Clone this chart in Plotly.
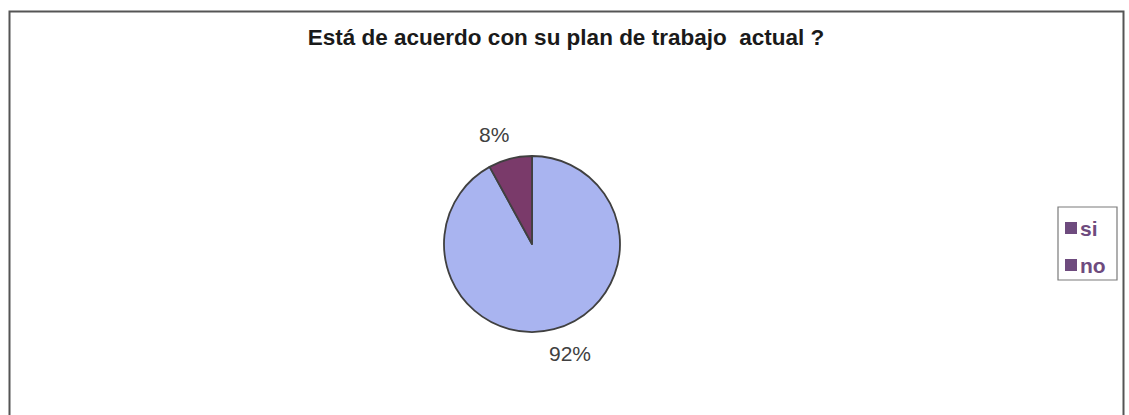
import math
import plotly.graph_objects as go

# Survey answers and their shares (percent)
labels = ["si", "no"]
values = [92, 8]
slice_colors = ["#A9B4F0", "#7A3A6A"]
legend_color = "#6E4B7E"

title_text = "Está de acuerdo con su plan de trabajo  actual ?"

W, H = 1129, 415
FONT = "Liberation Sans, Arial, sans-serif"

# Pie placement (pixels)
cx, cy, r = 532, 244, 88

fig = go.Figure()

fig.add_trace(go.Pie(
    labels=labels,
    values=values,
    sort=False,
    direction="clockwise",
    rotation=0,
    marker=dict(colors=slice_colors, line=dict(color="#404040", width=1.8)),
    textinfo="none",
    domain=dict(x=[(cx - r) / W, (cx + r) / W], y=[1 - (cy + r) / H, 1 - (cy - r) / H]),
    showlegend=False,
    hoverinfo="label+percent",
))

# Percentage labels outside each slice, placed at the slice's mid-angle
annotations = []
total = sum(values)
start = 0.0
label_r = 113
for v in values:
    mid = (start + v / 2) / total * 2 * math.pi
    start += v
    sx, sy = math.sin(mid), math.cos(mid)
    annotations.append(dict(
        x=(cx + label_r * sx) / W, y=1 - (cy - label_r * sy) / H,
        xref="paper", yref="paper",
        text=f"{round(100 * v / total)}%",
        showarrow=False, xanchor="center", yanchor="middle",
        xshift=10 if sx > 0 else -10,
        font=dict(family=FONT, size=21, color="#404040"),
    ))

# Legend: box, colour squares and names
legend_x0, legend_x1, legend_y0, legend_y1 = 1058, 1117, 207, 280
legend_rows = [228, 265]
shapes = [
    dict(type="rect", xref="paper", yref="paper",
         x0=9.5 / W, x1=1123.5 / W, y0=-0.1, y1=1 - 11.5 / H,
         line=dict(color="#555555", width=2)),
    dict(type="rect", xref="paper", yref="paper",
         x0=legend_x0 / W, x1=legend_x1 / W, y0=1 - legend_y1 / H, y1=1 - legend_y0 / H,
         line=dict(color="#7a7a7a", width=1.2), fillcolor="white"),
]
for name, row in zip(labels, legend_rows):
    shapes.append(dict(
        type="rect", xref="paper", yref="paper",
        x0=1065 / W, x1=1077 / W, y0=1 - (row + 6) / H, y1=1 - (row - 6) / H,
        line=dict(width=0), fillcolor=legend_color,
    ))
    annotations.append(dict(
        x=1078 / W, y=1 - row / H, xref="paper", yref="paper",
        text=f"<b>{name}</b>", showarrow=False, xanchor="left", yanchor="middle",
        font=dict(family=FONT, size=21, color=legend_color),
    ))

fig.update_layout(
    width=W, height=H,
    margin=dict(l=0, r=0, t=0, b=0),
    paper_bgcolor="white",
    plot_bgcolor="white",
    title=dict(
        text=title_text,
        x=566 / W, xanchor="center",
        y=1 - 37 / H, yanchor="middle",
        font=dict(family=FONT, size=22.5, color="#1a1a1a", weight="bold"),
    ),
    showlegend=False,
    shapes=shapes,
    annotations=annotations,
)

fig.write_html("out.html")
